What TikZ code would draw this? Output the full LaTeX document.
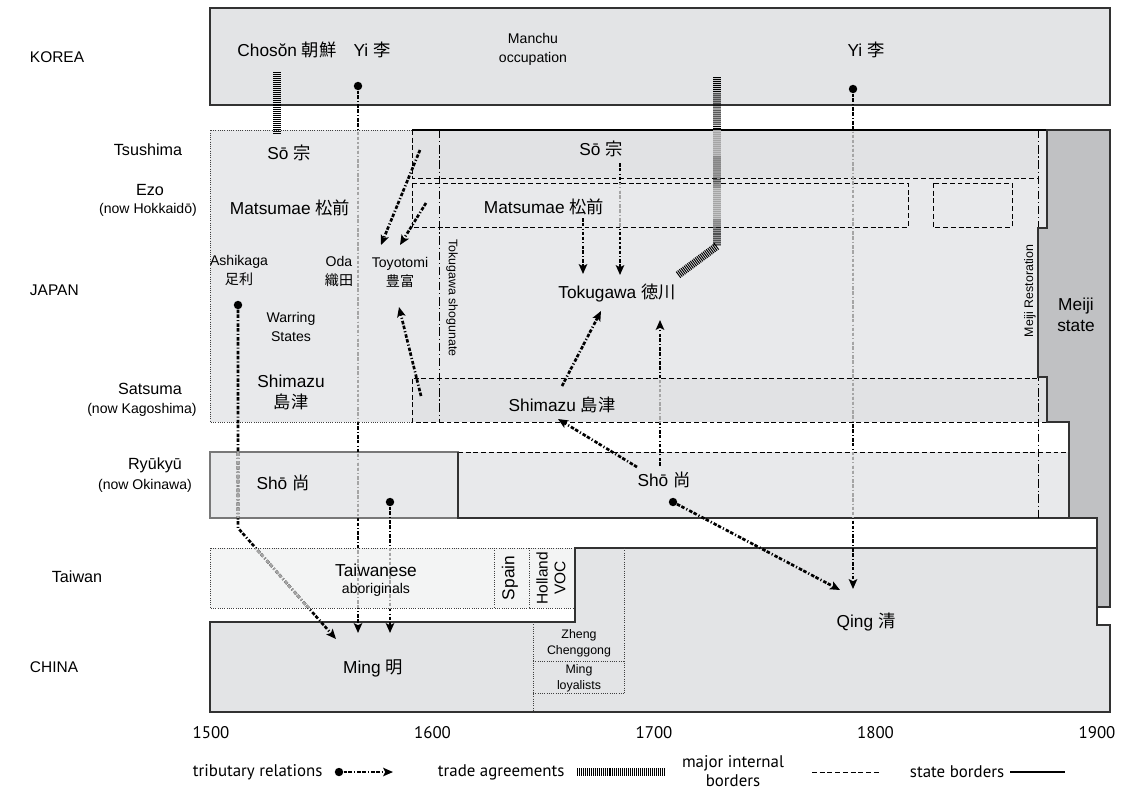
\documentclass[tikz,border=0pt]{standalone}
\usepackage{fontspec}
\setmainfont{Liberation Sans}
\newfontfamily\cjk{Noto Sans CJK JP}
\newfontfamily\axisfont{PT Sans}
\usetikzlibrary{arrows.meta}
\definecolor{PanelGray}{RGB}{227,228,230}
\definecolor{JapanGray}{RGB}{232,233,235}
\definecolor{BandGray}{RGB}{225,226,228}
\definecolor{MeijiGray}{RGB}{192,193,195}
\definecolor{TaiwanGray}{RGB}{243,244,244}
\definecolor{EdgeGray}{RGB}{50,50,50}
\definecolor{SoftEdge}{RGB}{120,120,120}
\definecolor{FadedLine}{RGB}{165,165,165}

\begin{document}
\begin{tikzpicture}[x=0.025cm, y=-0.025cm,
    stateline/.style={draw=EdgeGray, line width=0.9pt},
    internal/.style={line width=0.6pt, dash pattern=on 3.5pt off 2pt},
    loose/.style={draw=black!75, line width=0.6pt, dash pattern=on 0.6pt off 1pt},
    era/.style={line width=0.6pt, dash pattern=on 6pt off 2pt on 0.8pt off 2pt},
    tribute/.style={line width=1.9pt,
      dash pattern=on 2.5pt off 1pt on 2.5pt off 1.5pt on 0.8pt off 1.5pt,
      -{Stealth[length=7pt,width=6pt,inset=1.5pt]}},
    tribdot/.style={circle, fill=black, inner sep=0pt, minimum size=6pt},
    trade/.style={line width=5.5pt, dash pattern=on 0.7pt off 0.7pt},
    country/.style={font=\fontsize{11}{13}\selectfont},
    placename/.style={font=\fontsize{11.5}{14}\selectfont, align=center},
    sublabel/.style={font=\fontsize{10}{12}\selectfont, align=center},
    ruler/.style={font=\fontsize{12.3}{15}\selectfont, align=center},
    smalllabel/.style={font=\fontsize{10}{13.5}\selectfont, align=center},
    tinylabel/.style={font=\fontsize{8.8}{11.5}\selectfont, align=center},
    yearlabel/.style={font=\axisfont\fontsize{12}{14}\selectfont, align=center}]

  \useasboundingbox (0,0) rectangle (1130,790);

  % Korea
  \draw[stateline, fill=PanelGray] (210,8) rectangle (1110,105);

  % Japan before Tokugawa
  \fill[JapanGray] (210,130) rectangle (412,422);
  \draw[loose] (412,130) -- (210,130) -- (210,422) -- (412,422);

  % Japan under Tokugawa
  \fill[JapanGray] (412,130) rectangle (1047,422);
  \fill[BandGray] (412,130) rectangle (1038,178);
  \fill[BandGray] (412,378) rectangle (1047,422);
  \draw[stateline, draw=black] (412,130) -- (1047,130);
  \draw[internal] (412,130) -- (412,178) -- (1038,178);
  \draw[internal] (412,183) rectangle (908,227);
  \draw[internal] (933,183) rectangle (1012,227);
  \draw[internal] (1047,422) -- (412,422) -- (412,378) -- (1038,378);

  % Ryukyu
  \draw[draw=SoftEdge, line width=0.8pt, fill=JapanGray] (210,452) rectangle (458,518);
  \fill[JapanGray] (458,452) rectangle (1069,518);
  \draw[internal] (458,452) -- (1069,452);
  \draw[stateline] (458,452) -- (458,518) -- (1097,518);

  % Era lines
  \draw[era] (439,130) -- (439,422);
  \draw[era] (1038,130) -- (1038,518);

  % Taiwan
  \draw[loose, fill=TaiwanGray] (210,548) rectangle (494,608);
  \draw[loose, fill=TaiwanGray] (494,548) rectangle (529,608);
  \draw[loose, fill=TaiwanGray] (529,548) rectangle (575,608);

  % China
  \draw[stateline, fill=PanelGray] (210,622) -- (575,622) -- (575,548) -- (1097,548)
    -- (1097,625) -- (1110,625) -- (1110,712) -- (210,712) -- cycle;
  \draw[loose] (533,622) -- (533,712);
  \draw[loose] (533,661) -- (624,661);
  \draw[loose] (533,693) -- (624,693);
  \draw[loose] (624,548) -- (624,693);

  % Meiji state
  \draw[stateline, fill=MeijiGray] (1047,130) -- (1110,130) -- (1110,607) -- (1097,607)
    -- (1097,518) -- (1069,518) -- (1069,422) -- (1047,422) -- (1047,377)
    -- (1038,377) -- (1038,228) -- (1047,228) -- cycle;

  % Trade agreements
  \coordinate (tradeAtop) at (277,72);
  \coordinate (tradeAend) at (277,134);
  \draw[trade] (tradeAtop) -- (tradeAend);
  \coordinate (tradeBtop) at (717,77);
  \coordinate (tradeBknee) at (717,246);
  \coordinate (tradeBend) at (678,275);
  \draw[trade] (tradeBtop) -- (tradeBknee) -- (tradeBend);
  \begin{scope}
    \clip (700,130) rectangle (735,178) (700,183) rectangle (735,227);
    \draw[trade, FadedLine] (tradeBtop) -- (tradeBknee) -- (tradeBend);
  \end{scope}

  % Tributary relations
  \node[tribdot] (yiAdot) at (358,86) {};
  \coordinate (yiAend) at (358,633);
  \draw[tribute] (yiAdot) -- (yiAend);
  \begin{scope}
    \clip (340,130) rectangle (376,422) (340,452) rectangle (376,518) (340,548) rectangle (376,608);
    \draw[tribute, FadedLine] (yiAdot) -- (yiAend);
  \end{scope}

  \node[tribdot] (ashidot) at (238,305) {};
  \coordinate (ashiknee) at (238,528);
  \coordinate (ashiend) at (336,639);
  \draw[tribute] (ashidot) -- (ashiknee) -- (ashiend);
  \begin{scope}
    \clip (200,452) rectangle (360,518) (200,548) rectangle (360,608);
    \draw[tribute, FadedLine] (ashidot) -- (ashiknee) -- (ashiend);
  \end{scope}

  \node[tribdot] (shoAdot) at (390,502) {};
  \coordinate (shoAend) at (390,633);
  \draw[tribute] (shoAdot) -- (shoAend);
  \begin{scope}
    \clip (370,548) rectangle (410,608);
    \draw[tribute, FadedLine] (shoAdot) -- (shoAend);
  \end{scope}

  \coordinate (sotsuA) at (420,150);
  \coordinate (sotsuB) at (381,245);
  \draw[tribute] (sotsuA) -- (sotsuB);
  \coordinate (matsuA) at (426,203);
  \coordinate (matsuB) at (400,245);
  \draw[tribute] (matsuA) -- (matsuB);
  \coordinate (shimaA) at (421,396);
  \coordinate (shimaB) at (399,307);
  \draw[tribute] (shimaA) -- (shimaB);

  \coordinate (soTA) at (620,163);
  \coordinate (soTB) at (620,275);
  \draw[tribute] (soTA) -- (soTB);
  \begin{scope}
    \clip (600,183) rectangle (640,227);
    \draw[tribute, FadedLine] (soTA) -- (soTB);
  \end{scope}
  \coordinate (matsuTA) at (583,218);
  \coordinate (matsuTB) at (583,274);
  \draw[tribute] (matsuTA) -- (matsuTB);
  \coordinate (shimaTA) at (562,386);
  \coordinate (shimaTB) at (601,311);
  \draw[tribute] (shimaTA) -- (shimaTB);

  \coordinate (shoBA) at (637,467);
  \coordinate (shoBB) at (558,419);
  \draw[tribute] (shoBA) -- (shoBB);
  \coordinate (shoCA) at (660,466);
  \coordinate (shoCB) at (660,320);
  \draw[tribute] (shoCA) -- (shoCB);
  \begin{scope}
    \clip (640,378) rectangle (680,422);
    \draw[tribute, FadedLine] (shoCA) -- (shoCB);
  \end{scope}
  \node[tribdot] (shoDdot) at (673,502) {};
  \coordinate (shoDend) at (840,590);
  \draw[tribute] (shoDdot) -- (shoDend);

  \node[tribdot] (yiBdot) at (853,89) {};
  \coordinate (yiBend) at (853,589);
  \draw[tribute] (yiBdot) -- (yiBend);
  \begin{scope}
    \clip (835,130) rectangle (871,422) (835,452) rectangle (871,518);
    \draw[tribute, FadedLine] (yiBdot) -- (yiBend);
  \end{scope}

  % Row labels
  \node[country, anchor=west] (korea) at (25,57) {KOREA};
  \node[placename] (tsushima) at (148,150) {Tsushima};
  \node[placename] (ezo) at (150,190) {Ezo};
  \node[sublabel] (hokkaido) at (148,210) {(now Hokkaidō)};
  \node[country, anchor=west] (japan) at (25,290) {JAPAN};
  \node[placename] (satsuma) at (150,389) {Satsuma};
  \node[sublabel] (kagoshima) at (142,410) {(now Kagoshima)};
  \node[placename] (ryukyu) at (155,465) {Ryūkyū};
  \node[sublabel] (okinawa) at (145,486) {(now Okinawa)};
  \node[placename] (taiwan) at (77,577) {Taiwan};
  \node[country, anchor=west] (china) at (25,667) {CHINA};

  % Korea
  \node[ruler] (choson) at (287,50) {Chosŏn {\cjk 朝鮮}};
  \node[ruler] (yiearly) at (372,50) {Yi {\cjk 李}};
  \node[smalllabel] (manchu) at (533,49) {Manchu\\occupation};
  \node[ruler] (yilate) at (866,50) {Yi {\cjk 李}};

  % Japan
  \node[ruler] (soearly) at (289,153) {Sō {\cjk 宗}};
  \node[ruler] (matsuearly) at (290,208) {Matsumae {\cjk 松前}};
  \node[smalllabel] (ashikaga) at (239,270) {Ashikaga\\{\cjk 足利}};
  \node[smalllabel] (oda) at (339,272) {Oda\\{\cjk 織田}};
  \node[smalllabel] (toyotomi) at (400,272) {Toyotomi\\{\cjk 豊富}};
  \node[smalllabel] (warring) at (291,327) {Warring\\States};
  \node[ruler] (shimaearly) at (291,392) {Shimazu\\{\cjk 島津}};
  \node[ruler] (sotoku) at (601,149) {Sō {\cjk 宗}};
  \node[ruler] (matsutoku) at (544,207) {Matsumae {\cjk 松前}};
  \node[ruler] (tokugawa) at (617,293) {Tokugawa {\cjk 徳川}};
  \node[ruler] (shimatoku) at (562,405) {Shimazu {\cjk 島津}};
  \node[tinylabel, rotate=-90] (shogunate) at (452,298) {Tokugawa shogunate};
  \node[tinylabel, rotate=90] (restoration) at (1030,291) {Meiji Restoration};
  \node[ruler] (meiji) at (1076,315) {Meiji\\state};

  % Ryukyu
  \node[ruler] (shoearly) at (283,483) {Shō {\cjk 尚}};
  \node[ruler] (sholate) at (664,480) {Shō {\cjk 尚}};

  % Taiwan
  \node[ruler] (taiwanese) at (376,570) {Taiwanese};
  \node[sublabel] (aboriginals) at (376,590) {aboriginals};
  \node[ruler, rotate=90] (spain) at (510,578) {Spain};
  \node[sublabel, rotate=90, font=\fontsize{11}{12.5}\selectfont] (voc) at (551,578) {Holland\\VOC};

  % China
  \node[ruler] (ming) at (373,668) {Ming {\cjk 明}};
  \node[ruler] (qing) at (866,622) {Qing {\cjk 清}};
  \node[tinylabel] (zheng) at (579,643) {Zheng\\Chenggong};
  \node[tinylabel] (loyal) at (579,678) {Ming\\loyalists};

  % Axis
  \foreach \yr in {1500,1600,...,1900}
    \node[yearlabel] (yr\yr) at ({211+(\yr-1500)*2.215},733) {\yr};

  % Legend
  \node[yearlabel, anchor=west] (legtrib) at (188,772) {tributary relations};
  \node[tribdot] (legdot) at (339,772) {};
  \coordinate (legtribend) at (393,772);
  \draw[tribute] (legdot) -- (legtribend);
  \node[yearlabel, anchor=west] (legtrade) at (433,772) {trade agreements};
  \coordinate (legtradeA) at (577,772);
  \coordinate (legtradeB) at (665,772);
  \draw[trade] (legtradeA) -- (legtradeB);
  \node[yearlabel] (leginner) at (733,771) {major internal\\borders};
  \coordinate (leginnerA) at (812,772);
  \coordinate (leginnerB) at (880,772);
  \draw[internal] (leginnerA) -- (leginnerB);
  \node[yearlabel, anchor=west] (legstate) at (905,772) {state borders};
  \coordinate (legstateA) at (1010,772);
  \coordinate (legstateB) at (1065,772);
  \draw[line width=1.5pt] (legstateA) -- (legstateB);
\end{tikzpicture}
\end{document}
